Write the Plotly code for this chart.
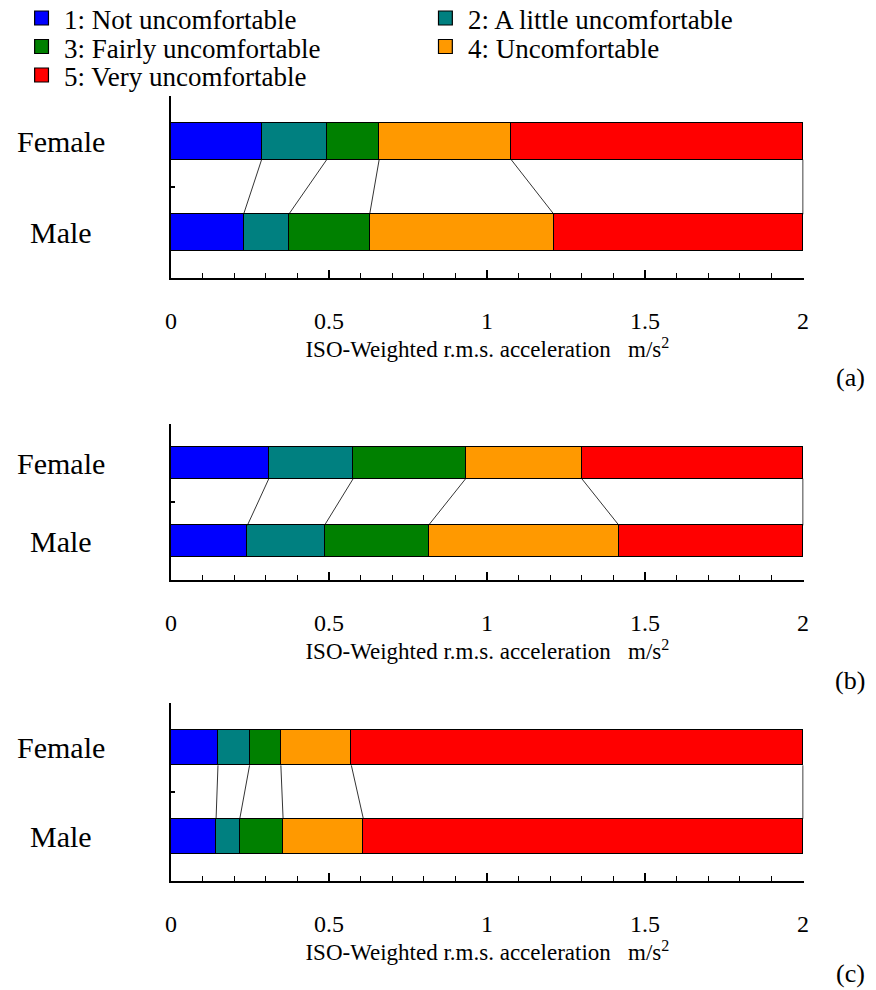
import numpy as np
import plotly.graph_objects as go

# ---------------- data ----------------
categories = ["Female", "Male"]
levels = ["1: Not uncomfortable", "2: A little uncomfortable",
          "3: Fairly uncomfortable", "4: Uncomfortable", "5: Very uncomfortable"]
colors = ["#0000FF", "#008080", "#008000", "#FF9900", "#FF0000"]
panel_tags = ["(a)", "(b)", "(c)"]

# segment widths (m/s^2) for each comfort level, panels (a), (b), (c)
a_female = [0.287, 0.206, 0.166, 0.418, 0.923]
a_male = [0.230, 0.143, 0.256, 0.583, 0.788]
b_female = [0.310, 0.267, 0.356, 0.367, 0.700]
b_male = [0.242, 0.244, 0.329, 0.603, 0.582]
c_female = [0.149, 0.100, 0.099, 0.223, 1.429]
c_male = [0.143, 0.075, 0.137, 0.254, 1.391]

x_ticks = [0, 0.5, 1, 1.5, 2]
x_tick_labels = ["0", "0.5", "1", "1.5", "2"]
x_title = "ISO-Weighted r.m.s. acceleration\u00a0\u00a0\u00a0m/s<sup>2</sup>"

panels = [(a_female, a_male), (b_female, b_male), (c_female, c_male)]

# ---------------- layout helpers ----------------
W, H = 876, 990
FONT = "Liberation Serif, Times New Roman, serif"


def px_x(p):
    return p / W


def px_y(p):
    return 1 - p / H


x_dom = [px_x(167), px_x(808)]
y_doms = [(96, 278), (424, 580), (703, 881)]
tag_y = [377, 680, 973]
bar_w = 0.4
ypos = {c: (len(categories) - 1 - i) for i, c in enumerate(categories)}

fig = go.Figure()
annotations = []
shapes = []

for p, (fem, mal) in enumerate(panels):
    s = "" if p == 0 else str(p + 1)
    yv = [ypos["Female"], ypos["Male"]]
    for k in range(len(levels)):
        fig.add_trace(go.Bar(
            x=[fem[k], mal[k]], y=yv, orientation="h", width=bar_w,
            name=levels[k], showlegend=False,
            marker=dict(color=colors[k], line=dict(color="black", width=1.3)),
            xaxis="x" + s, yaxis="y" + s,
        ))
    cf = np.cumsum(fem)
    cm = np.cumsum(mal)
    xs, ys = [], []
    for k in range(len(levels)):
        xs += [cf[k], cm[k], None]
        ys += [ypos["Female"] - bar_w / 2, ypos["Male"] + bar_w / 2, None]
    fig.add_trace(go.Scatter(
        x=xs, y=ys, mode="lines", line=dict(color="black", width=0.8),
        showlegend=False, hoverinfo="skip", xaxis="x" + s, yaxis="y" + s,
    ))

    top, bot = y_doms[p]
    fig.layout["xaxis" + s] = dict(
        domain=x_dom, anchor="y" + s, range=[0, 2.003],
        tickmode="array", tickvals=x_ticks, ticktext=x_tick_labels,
        ticks="inside", ticklen=8, tickwidth=1.5, tickcolor="black",
        minor=dict(dtick=0.1, tick0=0, ticks="inside", ticklen=5,
                   tickwidth=1, tickcolor="black"),
        showline=True, linecolor="black", linewidth=1.5,
        showgrid=False, zeroline=False,
        tickfont=dict(family=FONT, size=24, color="black"),
        ticklabelstandoff=20,
        title=dict(text=x_title, font=dict(family=FONT, size=23, color="black"),
                   standoff=2),
    )
    fig.layout["yaxis" + s] = dict(
        domain=[px_y(bot), px_y(top)], anchor="x" + s, range=[-0.5, 1.5],
        tickmode="array", tickvals=[-0.5, 0.5, 1.5], showticklabels=False,
        ticks="inside", ticklen=4, tickwidth=1.5, tickcolor="black",
        showline=True, linecolor="black", linewidth=1.5,
        showgrid=False, zeroline=False,
    )
    for c in categories:
        annotations.append(dict(
            text=c, xref="paper", x=px_x(56), xanchor="center",
            yref="y" + s, y=ypos[c], yanchor="middle", showarrow=False,
            font=dict(family=FONT, size=30, color="black"),
        ))
    annotations.append(dict(
        text=panel_tags[p], xref="paper", x=px_x(855), xanchor="center",
        yref="paper", y=px_y(tag_y[p]), yanchor="middle", showarrow=False,
        font=dict(family=FONT, size=26, color="black"),
    ))

# manual legend (two columns)
col_sw = [29, 438]
col_tx = [57, 466]
row_y = [18, 46.5, 75]
for i, lab in enumerate(levels):
    c, r = i % 2, i // 2
    shapes.append(dict(
        type="rect", xref="paper", yref="paper",
        x0=px_x(col_sw[c]), x1=px_x(col_sw[c] + 14),
        y0=px_y(row_y[r] + 7), y1=px_y(row_y[r] - 7),
        fillcolor=colors[i], line=dict(color="black", width=1.2),
    ))
    annotations.append(dict(
        text=lab, xref="paper", x=px_x(col_tx[c]), xanchor="left",
        yref="paper", y=px_y(row_y[r] + 2), yanchor="middle", showarrow=False,
        font=dict(family=FONT, size=27, color="black"),
    ))

fig.update_layout(
    width=W, height=H, margin=dict(l=0, r=0, t=0, b=0),
    paper_bgcolor="white", plot_bgcolor="white",
    barmode="stack", bargap=0, showlegend=False,
    annotations=annotations, shapes=shapes,
    font=dict(family=FONT, color="black"),
)

# remove the default page margin so the figure fills the 876x990 window
fig.write_html("out.html", config={"displayModeBar": False},
               post_script="document.body.style.margin='0px';")
